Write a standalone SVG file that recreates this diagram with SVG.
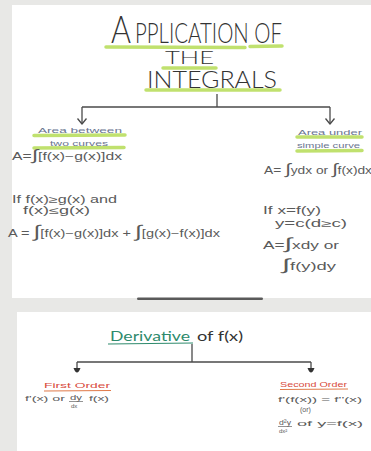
<svg xmlns="http://www.w3.org/2000/svg" width="371" height="451" viewBox="0 0 371 451">
<defs>
<style>
.t{font-family:Lato,"Liberation Sans",Arial,sans-serif;font-weight:300;fill:#333}
.f{font-family:"Liberation Sans",Arial,sans-serif;fill:#5a5a5a;font-size:10px}
.s{font-family:"Liberation Sans",Arial,sans-serif;fill:#5a5a5a;font-size:8px}
.lb{font-family:"Liberation Sans",Arial,sans-serif;fill:#6a7590;font-size:8px}
.hl{stroke:#b5dc55;stroke-width:3.5;stroke-linecap:round;fill:none;opacity:0.85}
.ln{stroke:#4a4a4a;stroke-width:1.3;fill:none}
.ah{stroke:#4a4a4a;stroke-width:1.3;fill:none;stroke-linejoin:round}
.blob{fill:#333}
.red{font-family:"Liberation Sans",Arial,sans-serif;fill:#d84a3c;font-size:8px}
.ul{stroke:#e07a4a;stroke-width:1;fill:none}
.fr{stroke:#666;stroke-width:0.7}
</style>
</defs>
<rect x="0" y="0" width="371" height="451" fill="#e8e8e6"/>
<rect x="12" y="5" width="359" height="293" fill="#ffffff"/>
<rect x="17" y="312" width="354" height="139" fill="#ffffff"/>
<rect x="137" y="297.5" width="126" height="2.5" rx="1.2" fill="#5a5a5a"/>

<g id="title">
<path class="hl" d="M106,47 L245,47.5"/>
<path class="hl" d="M250,46.5 L282,46"/>
<path class="hl" d="M163,68 L216,68"/>
<path class="hl" d="M146,90 L280,90"/>
<text class="t" x="111" y="43" font-size="38" textLength="20" lengthAdjust="spacingAndGlyphs">A</text>
<text class="t" x="135" y="43" font-size="28" textLength="147" lengthAdjust="spacingAndGlyphs">PPLICATION OF</text>
<text class="t" x="165" y="64" font-size="18" textLength="49" lengthAdjust="spacingAndGlyphs">THE</text>
<text class="t" x="147" y="88" font-size="23" textLength="130" lengthAdjust="spacingAndGlyphs">INTEGRALS</text>
</g>

<g id="connectors">
<path class="ln" d="M217,94 L217,107"/>
<path class="ln" d="M82,107 L330,107"/>
<path class="ln" d="M82,107 L82,124"/>
<path class="ah" d="M77.5,118.5 L82,124 L86.5,118.5"/>
<path class="ln" d="M330,107 L330,124"/>
<path class="ah" d="M325.5,118.5 L330,124 L334.5,118.5"/>
<path class="ln" d="M192,344 L192,362"/>
<path class="ln" d="M77,362 L311,362"/>
<path class="ln" d="M77,362 L77,370"/>
<path class="blob" d="M73.5,368 Q77,377 80.5,368 Z"/>
<path class="ln" d="M311,362 L311,370"/>
<path class="blob" d="M307.5,368 Q311,377 314.5,368 Z"/>
</g>

<g id="area-between">
<path class="hl" d="M34,135.5 L125,135"/>
<path class="hl" d="M34,148 L124,147.5"/>
<text class="lb" x="38" y="133" textLength="84" lengthAdjust="spacingAndGlyphs">Area between</text>
<text class="lb" x="50" y="145.5" textLength="58" lengthAdjust="spacingAndGlyphs">two curves</text>
<text class="f" x="12" y="160" textLength="110" lengthAdjust="spacingAndGlyphs">A=<tspan font-size="15">∫</tspan>[f(x)−g(x)]dx</text>
<text class="f" x="12" y="203" textLength="105" lengthAdjust="spacingAndGlyphs">If f(x)≥g(x) and</text>
<text class="f" x="23" y="214" textLength="67" lengthAdjust="spacingAndGlyphs">f(x)≤g(x)</text>
<text class="f" x="8" y="237" textLength="212" lengthAdjust="spacingAndGlyphs">A = <tspan font-size="17">∫</tspan>[f(x)−g(x)]dx + <tspan font-size="17">∫</tspan>[g(x)−f(x)]dx</text>
</g>

<g id="area-under">
<path class="hl" d="M297,137 L362,137"/>
<path class="hl" d="M297,151 L362,150.5"/>
<text class="lb" x="298" y="134.5" textLength="64" lengthAdjust="spacingAndGlyphs">Area under</text>
<text class="lb" x="297" y="147.5" textLength="63" lengthAdjust="spacingAndGlyphs">simple curve</text>
<text class="f" x="264" y="174" textLength="108" lengthAdjust="spacingAndGlyphs">A= <tspan font-size="15">∫</tspan>ydx or <tspan font-size="15">∫</tspan>f(x)dx</text>
<text class="f" x="263" y="214" textLength="58" lengthAdjust="spacingAndGlyphs">If x=f(y)</text>
<text class="f" x="275" y="227" textLength="72" lengthAdjust="spacingAndGlyphs">y=c(d≥c)</text>
<text class="f" x="263" y="249" textLength="76" lengthAdjust="spacingAndGlyphs">A=<tspan font-size="16">∫</tspan>xdy   or</text>
<text class="f" x="282" y="270" textLength="54" lengthAdjust="spacingAndGlyphs"><tspan font-size="16">∫</tspan>f(y)dy</text>
</g>

<g id="derivative">
<path d="M108,344 L193,343" stroke="#2e8a6c" stroke-width="1" fill="none"/>
<text class="t" x="110" y="341" font-size="14" style="fill:#2e8a6c;font-weight:400" textLength="80" lengthAdjust="spacingAndGlyphs">Derivative</text>
<text class="t" x="197" y="341" font-size="14" style="font-weight:400" textLength="46" lengthAdjust="spacingAndGlyphs">of f(x)</text>
</g>

<g id="first-order">
<path class="ul" d="M44,391 L111,390.5"/>
<text class="red" x="44" y="388" textLength="66" lengthAdjust="spacingAndGlyphs">First Order</text>
<text class="s" x="25" y="401" textLength="40" lengthAdjust="spacingAndGlyphs">f'(x) or</text>
<text class="s" x="70" y="400" textLength="12" lengthAdjust="spacingAndGlyphs">dy</text>
<path class="fr" d="M69,401.5 L83,401.5"/>
<text class="s" x="71" y="408" style="font-size:6px">dx</text>
<text class="s" x="89" y="401" textLength="20" lengthAdjust="spacingAndGlyphs">f(x)</text>
</g>

<g id="second-order">
<path class="ul" d="M280,389.5 L348,389"/>
<text class="red" x="280" y="387" textLength="67" lengthAdjust="spacingAndGlyphs">Second Order</text>
<text class="s" x="278" y="402" textLength="84" lengthAdjust="spacingAndGlyphs">f'(f(x)) = f''(x)</text>
<text class="s" x="300" y="412" style="font-size:7px">(or)</text>
<text class="s" x="279" y="425" textLength="12" lengthAdjust="spacingAndGlyphs">d²y</text>
<path class="fr" d="M278,426.5 L292,426.5"/>
<text class="s" x="279" y="433" style="font-size:6px">dx²</text>
<text class="s" x="297" y="426" textLength="66" lengthAdjust="spacingAndGlyphs">of  y=f(x)</text>
</g>
</svg>
